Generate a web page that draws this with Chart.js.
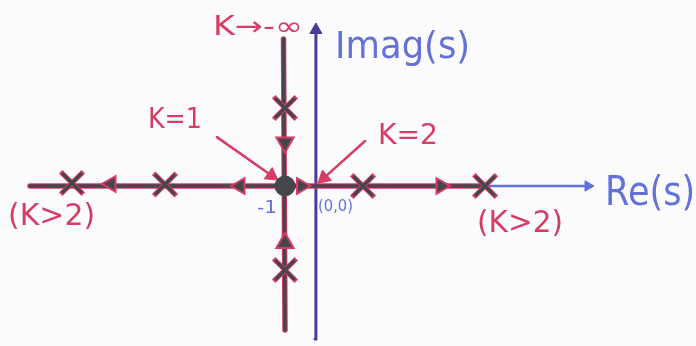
<!DOCTYPE html>
<html>
<head>
<meta charset="utf-8">
<script src="https://cdn.jsdelivr.net/npm/chart.js@4/dist/chart.umd.min.js"></script>
<style>
  html, body { margin: 0; padding: 0; background: #fcfcfe; }
  #wrap { width: 696px; height: 346px; }
</style>
</head>
<body>
<div id="wrap"><canvas id="chart" width="696" height="346"></canvas></div>
<script>
"use strict";

// s-plane, 1 unit per division on both axes
const realAxis = [{x: -9.5, y: 0}, {x: 9.1, y: 0}];
const imagAxis = [{x: 0, y: -5.1}, {x: 0.03, y: 5.2}];

// root locus branches
const realLocus = [{x: -9.5, y: 0}, {x: 5.67, y: 0}];
const vertLocus = [{x: -1, y: -4.8}, {x: -1.05, y: 4.9}];

// roots marked with x
const roots = [
  {x: -8.1, y: 0.1}, {x: -5, y: 0.05}, {x: 1.6, y: 0}, {x: 5.67, y: 0},
  {x: -1, y: 2.6}, {x: -1, y: -2.8}
];
const breakPoint = [{x: -1, y: 0}];

// direction of travel along the branches
const leftArrows = [{x: -2.5, y: 0}, {x: -6.8, y: 0.07}];
const rightArrows = [{x: 4.2, y: 0}, {x: -0.45, y: 0}];
const downArrows = [{x: -1, y: 1.45}];
const upArrows = [{x: -1, y: -1.9}];

// K=1 / K=2 pointers: [from, to]
const pointerK1 = [{x: -3.27, y: 1.63}, {x: -1.45, y: 0.35}];
const pointerK2 = [{x: 1.67, y: 1.5}, {x: 0.3, y: 0.27}];

const RED = '#d63c64';
const BLUE = '#6272d8';
const NAVY = '#483c98';
const DARK = '#45454d';

// text: left edge / middle in axis units, font size and drawn width in px
const notes = [
  {text: 'K\u2192-\u221e', x: -3.4, y: 5.27, color: RED, size: 26, width: 90},
  {text: 'Imag(s)', x: 0.67, y: 4.6, color: BLUE, size: 38, width: 135},
  {text: 'Re(s)', x: 9.67, y: -0.3, color: BLUE, size: 40, width: 90},
  {text: '(K>2)', x: -10.23, y: -1.03, color: RED, size: 30, width: 87},
  {text: '(K>2)', x: 5.4, y: -1.27, color: RED, size: 30, width: 86},
  {text: 'K=1', x: -5.57, y: 2.17, color: RED, size: 28, width: 54},
  {text: 'K=2', x: 2.1, y: 1.63, color: RED, size: 28, width: 60},
  {text: '-1', x: -1.93, y: -0.73, color: BLUE, size: 18, width: 20},
  {text: '(0,0)', x: 0.1, y: -0.7, color: BLUE, size: 15, width: 35}
];

function angleOf(seg) {
  const dx = seg[1].x - seg[0].x;
  const dy = seg[1].y - seg[0].y;
  return Math.atan2(dx, dy) * 180 / Math.PI;
}

function line(data, color, width, order) {
  return {data: data, showLine: true, borderColor: color, borderWidth: width,
          pointRadius: 0, order: order, borderCapStyle: 'round'};
}

function marks(data, style, color, radius, rot, order, extra) {
  return Object.assign({data: data, showLine: false, pointStyle: style, rotation: rot,
          pointRadius: radius, backgroundColor: color, borderColor: color,
          borderWidth: 1, order: order}, extra || {});
}

const notesPlugin = {
  id: 'notes',
  afterDatasetsDraw(chart) {
    const ctx = chart.ctx;
    const xs = chart.scales.x, ys = chart.scales.y;
    notes.forEach(function(n) {
      ctx.save();
      ctx.font = n.size + 'px "DejaVu Sans"';
      ctx.fillStyle = n.color;
      ctx.textAlign = 'left';
      ctx.textBaseline = 'middle';
      const w = ctx.measureText(n.text).width;
      ctx.translate(xs.getPixelForValue(n.x), ys.getPixelForValue(n.y));
      ctx.scale(n.width / w, 1);
      ctx.fillText(n.text, 0, 0);
      ctx.restore();
    });
  }
};

new Chart('chart', {
  type: 'scatter',
  data: {
    datasets: [
      line(realAxis, BLUE, 2.5, 20),
      line(imagAxis, NAVY, 3, 19),
      line(realLocus, RED, 5.5, 18),
      line(vertLocus, RED, 5.5, 18),
      line(realLocus, DARK, 3.5, 17),
      line(vertLocus, DARK, 3.5, 17),
      line(pointerK1, RED, 2.5, 16),
      line(pointerK2, RED, 2.5, 16),
      marks([pointerK1[1]], 'triangle', RED, 8, angleOf(pointerK1), 15),
      marks([pointerK2[1]], 'triangle', RED, 8, angleOf(pointerK2), 15),
      marks([realAxis[1]], 'triangle', BLUE, 6, 90, 14),
      marks([imagAxis[1]], 'triangle', NAVY, 7, 0, 14),
      marks(leftArrows, 'triangle', DARK, 9, 270, 12, {borderColor: RED, borderWidth: 2}),
      marks(rightArrows, 'triangle', DARK, 9, 90, 12, {borderColor: RED, borderWidth: 2}),
      marks(downArrows, 'triangle', DARK, 10, 180, 12, {borderColor: RED, borderWidth: 2}),
      marks(upArrows, 'triangle', DARK, 10, 0, 12, {borderColor: RED, borderWidth: 2}),
      marks(roots, 'crossRot', RED, 16, 0, 11, {borderWidth: 5}),
      marks(roots, 'crossRot', DARK, 14, 0, 10, {borderWidth: 3}),
      marks(breakPoint, 'circle', DARK, 10, 0, 9)
    ]
  },
  options: {
    responsive: false,
    animation: false,
    devicePixelRatio: 1,
    layout: {padding: 0, autoPadding: false},
    plugins: {legend: {display: false}, tooltip: {enabled: false}},
    scales: {
      x: {type: 'linear', min: -10.5, max: 12.7, display: false},
      y: {type: 'linear', min: -5.333, max: 6.2, display: false}
    }
  },
  plugins: [notesPlugin]
});
</script>
</body>
</html>
